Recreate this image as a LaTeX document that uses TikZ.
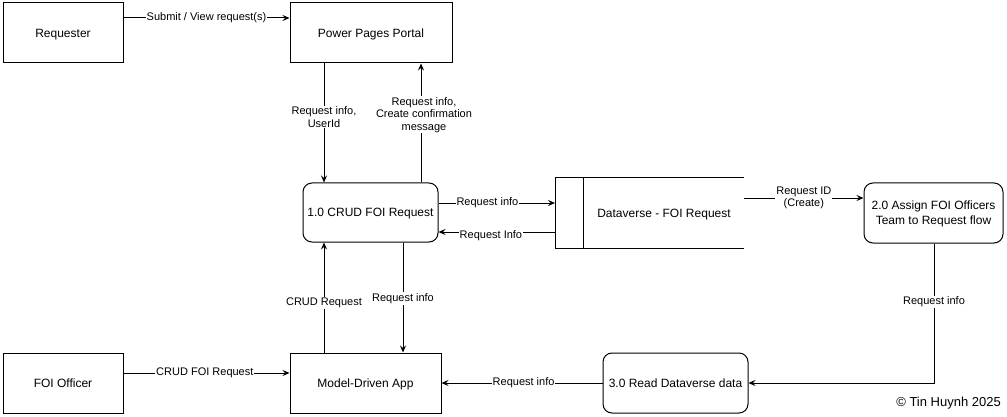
\documentclass[tikz,border=0pt]{standalone}
\usepackage{fontspec}
\setmainfont{Liberation Sans}
\usetikzlibrary{arrows.meta}
\begin{document}
\begin{tikzpicture}[x=1pt,y=-1pt,
  ext/.style={draw,line width=1pt,minimum width=120pt,minimum height=60pt,inner sep=0pt,text depth=0pt,font=\fontsize{12}{14}\selectfont},
  proc/.style={draw,line width=1pt,rounded corners=9pt,inner sep=0pt,text depth=0pt,align=center,font=\fontsize{12}{15}\selectfont},
  flow/.style={line width=1pt,-{Stealth[length=7pt,width=6pt,inset=2.5pt]}},
  lbl/.style={fill=white,inner sep=1pt,align=center,font=\fontsize{11}{12.5}\selectfont}]
\useasboundingbox (0,0) rectangle (1007,417);
% external entities
\node[ext] (req) at (63,33) {Requester};
\node[ext,minimum width=162pt] (ppp) at (371,33) {Power Pages Portal};
\node[ext] (foi) at (63,383) {FOI Officer};
\node[ext,minimum width=151pt] (mda) at (365.5,383) {Model-Driven App};
% processes
\node[proc,minimum width=135pt,minimum height=59pt] (crud) at (370.5,212.5) {1.0 CRUD FOI Request};
\node[proc,minimum width=139pt,minimum height=60pt] (assign) at (933.5,213) {2.0 Assign FOI Officers\\Team to Request flow};
\node[proc,minimum width=145pt,minimum height=60pt] (read) at (675.5,383) {3.0 Read Dataverse data};
% data store
\node[minimum width=160pt,minimum height=70pt,inner sep=0pt,text depth=0pt,font=\fontsize{12}{14}\selectfont] (dv) at (664,213) {Dataverse - FOI Request};
\coordinate (dvl) at (555,213);
\draw[line width=1pt] (dv.north east) -- (dvl |- dv.north) -- (dvl |- dv.south) -- (dv.south east);
\draw[line width=1pt] (dv.north west) -- (dv.south west);
% connectors
\draw[flow] (req.east |- 0,18) -- node[lbl]{Submit / View request(s)} (ppp.west |- 0,18);
\draw[flow] (ppp.south -| 324,0) -- node[lbl,pos=0.45]{Request info,\\UserId} (crud.north -| 324,0);
\draw[flow] (crud.north -| 421,0) -- node[lbl,pos=0.57,xshift=3pt]{Request info,\\Create confirmation\\message} (ppp.south -| 421,0);
\draw[flow] (crud.east |- 0,203) -- node[lbl,pos=0.42]{Request info} (dvl |- 0,203);
\draw[flow] (dvl |- 0,232) -- node[lbl,pos=0.55,yshift=-4pt]{Request Info} (crud.east |- 0,232);
\draw[flow] (dv.east |- 0,198) -- node[lbl]{Request ID\\(Create)} (assign.west |- 0,198);
\draw[flow] (assign.south -| 934,0) -- node[lbl,pos=0.42]{Request info} (934,383) -- (read.east);
\draw[flow] (read.west) -- node[lbl,pos=0.49]{Request info} (mda.east);
\draw[flow] (foi.east |- 0,373) -- node[lbl,pos=0.49]{CRUD FOI Request} (mda.west |- 0,373);
\draw[flow] (mda.north -| 324,0) -- node[lbl,pos=0.45]{CRUD Request} (crud.south -| 324,0);
\draw[flow] (crud.south -| 403,0) -- node[lbl,pos=0.51]{Request info} (mda.north -| 403,0);
% copyright
\node[anchor=east,inner sep=0pt,font=\fontsize{13}{15}\selectfont] (copy) at (1001,403) {© Tin Huynh 2025};
\end{tikzpicture}
\end{document}
